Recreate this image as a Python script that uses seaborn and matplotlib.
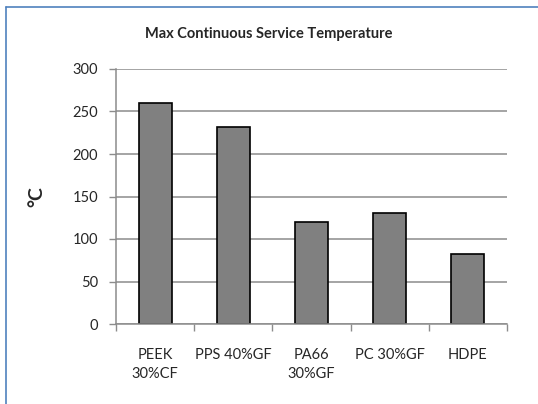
import matplotlib
matplotlib.use('Agg')
import matplotlib.pyplot as plt
import pandas as pd
import seaborn as sns
from matplotlib.lines import Line2D
from matplotlib.ticker import FixedLocator

materials = ['PEEK\n30%CF', 'PPS 40%GF', 'PA66\n30%GF', 'PC 30%GF', 'HDPE']
max_temp = [260, 232, 120, 131, 82]
y_ticks = [0, 50, 100, 150, 200, 250, 300]


def main():
    sns.set_style('white')
    plt.rcParams['font.family'] = ['Lato', 'DejaVu Sans']

    df = pd.DataFrame({'Material': materials, 'Temp': max_temp})

    fig = plt.figure(figsize=(5.38, 4.04), dpi=100)
    ax = fig.add_axes([116 / 538, 1 - 324 / 404, 391 / 538, 255 / 404])

    sns.barplot(data=df, x='Material', y='Temp', color='#808080', saturation=1,
                edgecolor='black', linewidth=1.2, width=0.42, ax=ax)

    ax.set_ylim(0, 300)
    ax.set_xlim(-0.5, len(materials) - 0.5)
    ax.set_yticks(y_ticks)
    ax.yaxis.grid(True, color='#8c8c8c', linewidth=1.1)
    ax.set_axisbelow(True)

    for side in ['top', 'right']:
        ax.spines[side].set_visible(False)
    for side in ['left', 'bottom']:
        ax.spines[side].set_color('#8c8c8c')
        ax.spines[side].set_linewidth(1.1)

    # ticks between categories like the spreadsheet chart
    ax.xaxis.set_minor_locator(FixedLocator([i - 0.5 for i in range(len(materials) + 1)]))
    ax.tick_params(axis='x', which='minor', direction='out', length=5, width=1, color='#8c8c8c', bottom=True)
    ax.tick_params(axis='x', which='major', length=0, pad=17, labelsize=10.5)
    ax.tick_params(axis='y', direction='out', length=5, width=1, color='#8c8c8c', left=True, pad=8, labelsize=10.5)
    for label in ax.get_xticklabels():
        label.set_linespacing(1.5)

    ax.set_xlabel('')
    ax.set_ylabel('°C', fontsize=14, fontweight='bold')
    ax.yaxis.set_label_coords(-0.18, 0.5)

    fig.text(269 / 538, 1 - 34 / 404, 'Max Continuous Service Temperature',
             ha='center', va='center', fontsize=10.5, fontweight='bold')

    # chart frame, partly cut off like the source image
    frame_color = '#4f81bd'
    fig.add_artist(Line2D([6 / 538, 1], [1 - 7 / 404, 1 - 7 / 404], color=frame_color, linewidth=1.2))
    fig.add_artist(Line2D([6 / 538, 6 / 538], [0, 1 - 7 / 404], color=frame_color, linewidth=1.2))

    fig.savefig('out.png', dpi=100)


if __name__ == '__main__':
    main()
